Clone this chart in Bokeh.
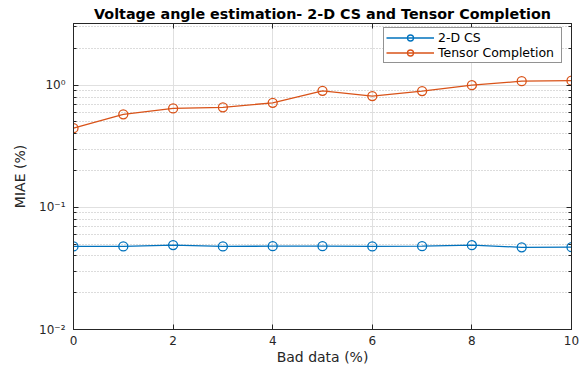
from bokeh.plotting import figure
from bokeh.models import LogAxis, LinearAxis, FixedTicker, Range1d
from bokeh.embed import file_html
from bokeh.resources import INLINE

# Percentage of bad data injected
bad_data = [0, 1, 2, 3, 4, 5, 6, 7, 8, 9, 10]
# Mean absolute error of the voltage angle estimate (%)
miae_cs2d = [0.0479, 0.0479, 0.0491, 0.0479, 0.0481, 0.0481, 0.0479, 0.0481, 0.0490, 0.0471, 0.0472]
miae_tensor = [0.445, 0.578, 0.646, 0.659, 0.718, 0.899, 0.814, 0.895, 1.0, 1.078, 1.09]

x_ticks = [0, 2, 4, 6, 8, 10]
y_ticks = [0.01, 0.1, 1]
y_tick_labels = {0.01: "10\u207b\u00b2", 0.1: "10\u207b\u00b9", 1: "10\u2070"}
y_minor = [m * d for d in (0.01, 0.1) for m in range(2, 10)] + [2, 3]

FONT = "DejaVu Sans"
BLUE = "#0072BD"
ORANGE = "#D95319"
AXIS = "#262626"

p = figure(width=587, height=369, y_axis_type="log",
           x_range=Range1d(0, 10), y_range=Range1d(0.01, 3.2),
           output_backend="svg", toolbar_location=None,
           min_border_left=73, min_border_right=16,
           min_border_top=23, min_border_bottom=40,
           background_fill_color="white", border_fill_color="white")

p.title.text = "Voltage angle estimation- 2-D CS and Tensor Completion"
p.title.text_font = FONT
p.title.text_font_size = "14.3px"
p.title.text_font_style = "bold"
p.title.align = "center"
p.title.text_color = "black"
p.title.standoff = 4

xt = FixedTicker(ticks=x_ticks)
yt = FixedTicker(ticks=y_ticks, minor_ticks=y_minor)

def style_axis(ax, show_labels):
    ax.axis_line_color = AXIS
    ax.major_tick_line_color = AXIS
    ax.minor_tick_line_color = AXIS
    ax.major_tick_in = 5
    ax.major_tick_out = 0
    ax.minor_tick_in = 3
    ax.minor_tick_out = 0
    if show_labels:
        ax.major_label_text_font = FONT
        ax.major_label_text_font_size = "12px"
        ax.major_label_text_color = AXIS
        ax.axis_label_text_font = FONT
        ax.axis_label_text_font_size = "14px"
        ax.axis_label_text_font_style = "normal"
        ax.axis_label_text_color = AXIS
    else:
        ax.major_label_text_font_size = "0px"
        ax.major_label_standoff = 0

xa = p.xaxis[0]
xa.ticker = xt
xa.axis_label = "Bad data (%)"
style_axis(xa, True)
xa.minor_tick_line_color = None
xa.major_label_standoff = 6
xa.axis_label_standoff = 1

ya = p.yaxis[0]
ya.ticker = yt
ya.major_label_overrides = y_tick_labels
ya.axis_label = "MIAE (%)"
style_axis(ya, True)
ya.major_label_standoff = 8
ya.axis_label_standoff = 8

ra = LogAxis(ticker=yt, major_label_overrides={t: "" for t in y_ticks})
style_axis(ra, False)
p.add_layout(ra, "right")

ta = LinearAxis(ticker=xt, major_label_overrides={t: "" for t in x_ticks})
style_axis(ta, False)
ta.minor_tick_line_color = None
p.add_layout(ta, "above")

p.xgrid.ticker = xt
p.xgrid.grid_line_color = "#e0e0e0"
p.ygrid.ticker = yt
p.ygrid.grid_line_color = "#e0e0e0"
p.ygrid.minor_grid_line_color = "#b8b8b8"
p.ygrid.minor_grid_line_dash = "1 2"
p.outline_line_color = AXIS

p.line(bad_data, miae_cs2d, line_color=BLUE, line_width=1.3, legend_label="2-D CS")
p.scatter(bad_data, miae_cs2d, marker="circle", size=9, line_color=BLUE,
          line_width=1.3, fill_color=None, legend_label="2-D CS")
p.line(bad_data, miae_tensor, line_color=ORANGE, line_width=1.3, legend_label="Tensor Completion")
p.scatter(bad_data, miae_tensor, marker="circle", size=9, line_color=ORANGE,
          line_width=1.3, fill_color=None, legend_label="Tensor Completion")

lg = p.legend[0]
lg.location = (310, 266)
lg.padding = 2
lg.spacing = 0
lg.margin = 0
lg.glyph_width = 48
lg.glyph_height = 15
lg.label_height = 15
lg.label_width = 121
lg.label_standoff = 4
lg.label_text_font = FONT
lg.label_text_font_size = "12.5px"
lg.label_text_color = "black"
lg.border_line_color = AXIS
lg.border_line_width = 1
lg.background_fill_alpha = 1

open("out.html", "w").write(file_html(p, INLINE))
